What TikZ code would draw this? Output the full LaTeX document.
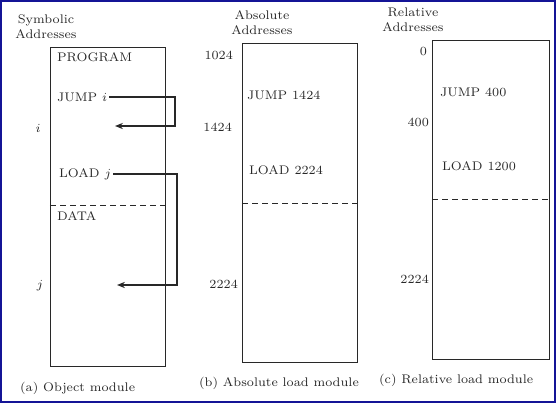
\documentclass[tikz,border=0pt]{standalone}
\usepackage{xcolor}
\usepackage{amsmath}
\usepackage{tikz}
\usetikzlibrary{arrows.meta, positioning, calc}
\definecolor{mydark}{RGB}{40,40,40}
\definecolor{myframe}{RGB}{20,20,150}
\tikzset{
  membox/.style={rectangle, draw=mydark, minimum width=2.3cm,
    minimum height=6.38cm, inner sep=0pt, line width=0.5pt},
  txt/.style={font=\fontsize{7.1}{8.6}\selectfont, inner sep=1pt, text=mydark},
  hdr/.style={txt, align=center},
  split/.style={dash pattern=on 3.5pt off 2.2pt, color=mydark, line width=0.45pt},
  arrow/.style={-{Stealth[length=4.5pt, width=3.5pt]}, line width=0.8pt, color=mydark}
}

\begin{document}
\begin{tikzpicture}[x=0.02cm, y=-0.02cm]
  \useasboundingbox (0,0) rectangle (556,403);
  \draw[myframe, line width=0.04cm] (1,1) rectangle (555,402);

  % (a) object module
  \node[hdr] (hdra) at (46,27) {Symbolic\\Addresses};
  \node[membox] (boxa) at (107.5,206.5) {};
  \draw[split] (50,205) -- (165,205);
  \node[txt, anchor=west] (prog) at (55,57) {PROGRAM};
  \node[txt, anchor=west] (jumpi) at (55,97) {JUMP $i$};
  \node[txt, anchor=west] (loadj) at (57,174) {LOAD $j$};
  \node[txt, anchor=west] (data) at (55,216) {DATA};
  \node[txt] (addri) at (38,128) {$i$};
  \node[txt] (addrj) at (40,286) {$j$};
  \coordinate (bendi) at (175,126);
  \coordinate (tgti) at (115,126);
  \coordinate (bendj) at (177,285);
  \coordinate (tgtj) at (117,285);
  \draw[arrow] (jumpi.east) -| (bendi) -- (tgti);
  \draw[arrow] (loadj.east) -| (bendj) -- (tgtj);
  \node[txt, anchor=west] (capa) at (18,388) {(a) Object module};

  % (b) absolute load module
  \node[hdr] (hdrb) at (262,23) {Absolute\\Addresses};
  \node[membox] (boxb) at (299.5,202.5) {};
  \draw[split] (242,203) -- (357,203);
  \node[txt, anchor=east] (b1024) at (235,55) {1024};
  \node[txt, anchor=east] (b1424) at (234,127) {1424};
  \node[txt, anchor=east] (b2224) at (240,284) {2224};
  \node[txt, anchor=west] (bjump) at (245,95) {JUMP 1424};
  \node[txt, anchor=west] (bload) at (247,170) {LOAD 2224};
  \node[txt, anchor=west] (capb) at (197,383) {(b) Absolute load module};

  % (c) relative load module
  \node[hdr] (hdrc) at (413,20) {Relative\\Addresses};
  \node[membox, minimum width=2.34cm] (boxc) at (490.5,199.5) {};
  \draw[split] (432,199) -- (549,199);
  \node[txt, anchor=east] (c0) at (429,51) {0};
  \node[txt, anchor=east] (c400) at (431,122) {400};
  \node[txt, anchor=east] (c2224) at (431,279) {2224};
  \node[txt, anchor=west] (cjump) at (438,92) {JUMP 400};
  \node[txt, anchor=west] (cload) at (440,166) {LOAD 1200};
  \node[txt, anchor=west] (capc) at (377,380) {(c) Relative load module};
\end{tikzpicture}
\end{document}
